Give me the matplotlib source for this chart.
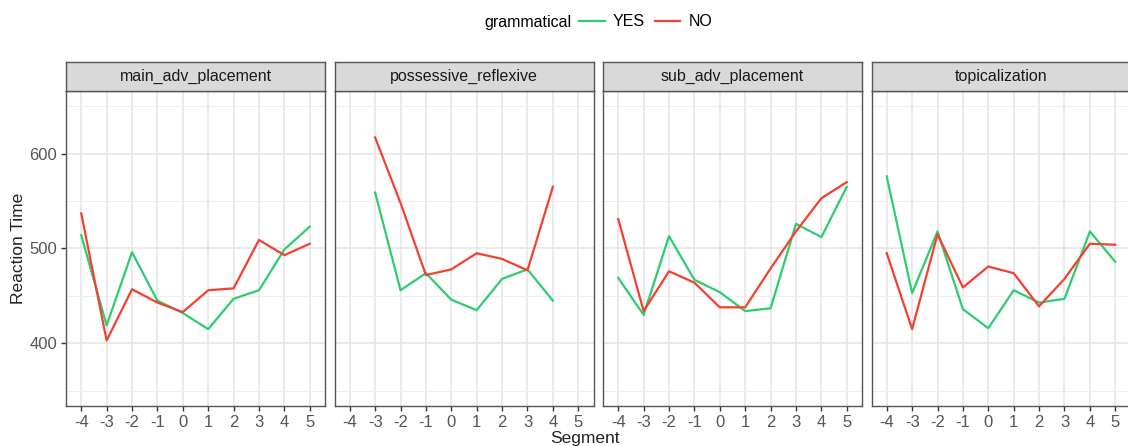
import numpy as np
import matplotlib.pyplot as plt
from matplotlib.lines import Line2D
from matplotlib.offsetbox import HPacker

plt.rcParams['font.family'] = ['Liberation Sans', 'DejaVu Sans']

segments = [-4, -3, -2, -1, 0, 1, 2, 3, 4, 5]
panels = ['main_adv_placement', 'possessive_reflexive', 'sub_adv_placement', 'topicalization']

# reaction times (None = no value)
yes_main = [514, 419, 496, 445, 432, 415, 447, 456, 499, 523]
no_main = [537, 403, 457, 443, 433, 456, 458, 509, 493, 505]
yes_poss = [None, 559, 456, 474, 446, 435, 468, 478, 445, None]
no_poss = [None, 617, 548, 472, 478, 495, 489, 477, 565, None]
yes_sub = [469, 430, 513, 467, 454, 434, 437, 526, 512, 565]
no_sub = [531, 434, 476, 464, 438, 438, 479, 518, 553, 570]
yes_topic = [576, 453, 518, 436, 416, 456, 443, 447, 518, 486]
no_topic = [495, 415, 515, 459, 481, 474, 439, 468, 505, 504]

yes_all = [yes_main, yes_poss, yes_sub, yes_topic]
no_all = [no_main, no_poss, no_sub, no_topic]

GREEN = '#2ecc71'
RED = '#f4402f'

W, H = 1128, 446
fig = plt.figure(figsize=(W / 100, H / 100), dpi=100)

lefts = [66, 334.5, 603, 871.5]
pw = 259
top, bottom, strip_top = 91, 406, 62

def to_fig(x0, y0, w, h):
    return [x0 / W, 1 - (y0 + h) / H, w / W, h / H]

for i, name in enumerate(panels):
    ax = fig.add_axes(to_fig(lefts[i], top, pw, bottom - top))
    ax.set_xlim(-4.6, 5.6)
    ax.set_ylim(334, 666)
    ax.set_xticks(segments)
    ax.set_xticklabels([str(s) for s in segments])
    ax.set_yticks([400, 500, 600])
    ax.set_yticks([350, 450, 550, 650], minor=True)
    ax.grid(True, which='major', color='#e6e6e6', lw=1.2)
    ax.grid(True, which='minor', axis='y', color='#efefef', lw=0.7)
    ax.set_axisbelow(True)
    for sp in ax.spines.values():
        sp.set_color('#555555')
        sp.set_linewidth(1.0)
    ax.tick_params(which='major', length=3.5, width=1, color='#333333',
                   labelsize=12, labelcolor='#555555', pad=3)
    ax.tick_params(which='minor', length=0)
    if i > 0:
        ax.set_yticklabels([])
        ax.tick_params(axis='y', length=0)

    x = np.array(segments, dtype=float)
    y_yes = np.array([np.nan if v is None else v for v in yes_all[i]], dtype=float)
    y_no = np.array([np.nan if v is None else v for v in no_all[i]], dtype=float)
    ax.plot(x, y_yes, color=GREEN, lw=1.6)
    ax.plot(x, y_no, color=RED, lw=1.6)

    if i == 0:
        ax.set_ylabel('Reaction Time', fontsize=12.5, color='#222222', labelpad=2)

    sax = fig.add_axes(to_fig(lefts[i], strip_top, pw, top - strip_top))
    sax.set_facecolor('#d9d9d9')
    sax.set_xticks([])
    sax.set_yticks([])
    for sp in sax.spines.values():
        sp.set_color('#555555')
        sp.set_linewidth(1.0)
    sax.text(0.5, 0.5, name, ha='center', va='center', fontsize=11.5,
             color='#1a1a1a', transform=sax.transAxes)

fig.text(585 / W, 1 - 438 / H, 'Segment', ha='center', va='center',
         fontsize=12.5, color='#222222')

handles = [Line2D([], [], color=GREEN, lw=1.6), Line2D([], [], color=RED, lw=1.6)]
leg = fig.legend(handles, ['YES', 'NO'], title='grammatical', ncol=2,
                 loc='center', bbox_to_anchor=(598 / W, 1 - 22 / H),
                 frameon=False, fontsize=11.5, title_fontsize=11.5,
                 handlelength=1.6, handletextpad=0.5, columnspacing=0.6)
# title on the same row as the entries
title_box = leg._legend_title_box
entries = leg._legend_handle_box
leg._legend_box._children = [HPacker(pad=0, sep=6, children=[title_box, entries], align='center')]

fig.savefig('out.png', dpi=100, facecolor='white')
